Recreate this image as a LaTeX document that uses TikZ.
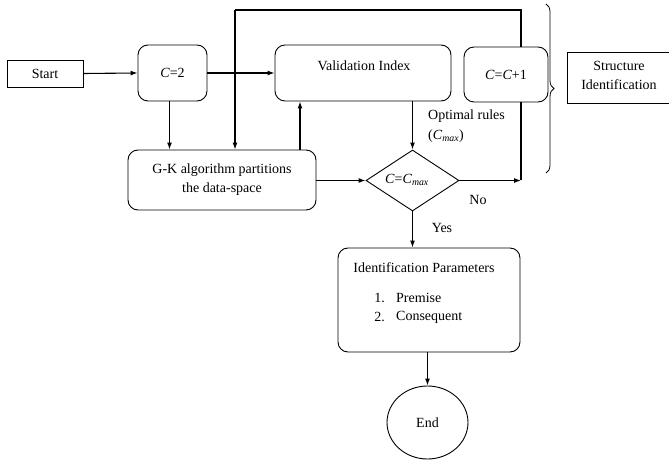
\documentclass[tikz,border=0pt]{standalone}
\usepackage{fontspec}
\setmainfont{Liberation Serif}
\usetikzlibrary{shapes.geometric,arrows.meta,decorations.pathreplacing}
\begin{document}
\begin{tikzpicture}[x=1pt,y=-1pt,
  every node/.style={font=\fontsize{14}{19}\selectfont, inner sep=0pt},
  box/.style={draw, line width=0.9pt, rectangle},
  rbox/.style={draw, line width=0.9pt, rectangle, rounded corners=10pt},
  arr/.style={line width=1.1pt, -{Latex[length=7pt,width=5pt]}},
  ln/.style={line width=1.1pt},
  lbl/.style={anchor=west}]
\useasboundingbox (0,0) rectangle (669,462);
% nodes
\node[box, minimum width=76pt, minimum height=27pt] (start) at (45,73.5) {Start};
\node[rbox, minimum width=69pt, minimum height=56pt] (c2) at (172.5,73) {\textit{C}=2};
\node[rbox, minimum width=176pt, minimum height=56pt] (val) at (363,73) {};
\node (valt) at (364,66) {Validation Index};
\node[rbox, minimum width=84pt, minimum height=55pt] (cc1) at (506,74.5) {\textit{C}=\textit{C}+1};
\node[rbox, minimum width=188pt, minimum height=60pt, align=center] (gk) at (222,180) {G-K algorithm partitions\\the data-space};
\node[draw, line width=0.9pt, diamond, aspect=1.5, minimum width=93pt, minimum height=61pt] (dia) at (412.5,180.5) {};
\node (diat) at (407,180) {\textit{C}=\textit{C}\textsubscript{\textit{max}}};
\node[rbox, minimum width=182pt, minimum height=104pt] (idp) at (429,300) {};
\node (idpt) at (424,268) {Identification Parameters};
\node[anchor=east] (n1) at (385,298) {1.};
\node[anchor=west] (p1) at (396,298) {Premise};
\node[anchor=east] (n2) at (385,317) {2.};
\node[anchor=west] (p2) at (396,317) {Consequent};
\node[draw, line width=0.9pt, ellipse, minimum width=81pt, minimum height=73pt] (end) at (427.5,422.5) {End};
\node[box, anchor=west, minimum width=110pt, minimum height=51pt] (struct) at (567,77.5) {};
\node[align=center] (structt) at (619,75) {Structure\\Identification};
\node[lbl] (opt) at (428,116) {Optimal rules};
\node[lbl] (optc) at (428,136) {(\textit{C}\textsubscript{\textit{max}})};
\node (no) at (478,200) {No};
\node (yes) at (442,228) {Yes};
\coordinate (loopc) at (235,10);
\coordinate (nojoin) at (521,180.5);
% connectors
\draw[arr] (start.east) -- (c2.west);
\draw[arr] (c2.east) -- (val.west);
\draw[arr] ([xshift=-3pt]c2.south) -- ([xshift=-3pt]c2.south |- gk.north);
\draw[ln] ([xshift=15pt]cc1.north) |- (loopc);
\draw[arr] (loopc) -- (loopc |- gk.north);
\draw[arr] ([xshift=78pt]gk.north) -- ([xshift=78pt]gk.north |- val.south);
\draw[arr] (gk.east |- dia.west) -- (dia.west);
\draw[arr] (dia.north |- val.south) -- (dia.north);
\draw[arr] (dia.east) -- (nojoin);
\draw[ln] ([xshift=15pt]cc1.south) -- (nojoin);
\draw[arr] (dia.south) -- (dia.south |- idp.north);
\draw[arr] (end.north |- idp.south) -- (end.north);
% brace
\draw[line width=0.8pt, decorate, decoration={brace, amplitude=8pt}] (546,4) -- (546,173);
\end{tikzpicture}
\end{document}
